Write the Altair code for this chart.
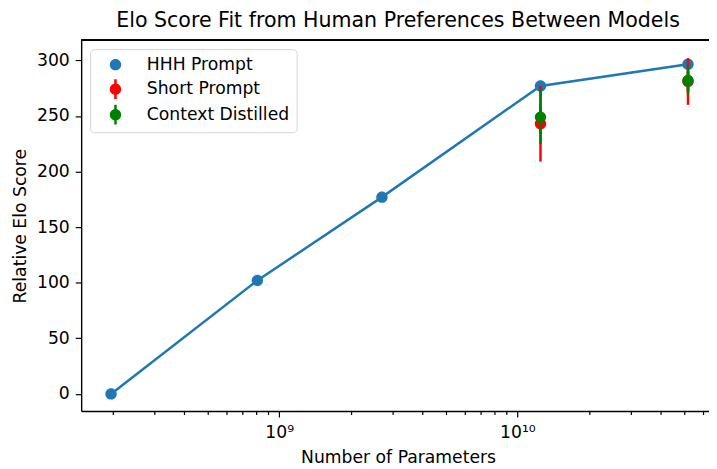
import altair as alt
import pandas as pd

# ---- data ----
series_names = ["HHH Prompt", "Short Prompt", "Context Distilled"]
series_colors = ["#1f77b4", "#ff0000", "#008000"]

hhh_params = [1.97e8, 8.1e8, 2.7e9, 1.25e10, 5.2e10]
hhh_elo = [0, 102, 177, 277, 296.5]

short_params = [1.25e10, 5.2e10]
short_elo = [243, 281]
short_err = [34, 21]

ctx_params = [1.25e10, 5.2e10]
ctx_elo = [249, 282]
ctx_err = [24, 12.5]

x_ticks = [2e8, 3e8, 4e8, 5e8, 6e8, 7e8, 8e8, 9e8, 1e9,
           2e9, 3e9, 4e9, 5e9, 6e9, 7e9, 8e9, 9e9, 1e10,
           2e10, 3e10, 4e10, 5e10, 6e10]
y_ticks = [0, 50, 100, 150, 200, 250, 300]

hhh_df = pd.DataFrame({"params": hhh_params, "elo": hhh_elo, "series": series_names[0]})
short_df = pd.DataFrame({
    "params": short_params, "elo": short_elo,
    "lo": [v - e for v, e in zip(short_elo, short_err)],
    "hi": [v + e for v, e in zip(short_elo, short_err)],
    "series": series_names[1]})
ctx_df = pd.DataFrame({
    "params": ctx_params, "elo": ctx_elo,
    "lo": [v - e for v, e in zip(ctx_elo, ctx_err)],
    "hi": [v + e for v, e in zip(ctx_elo, ctx_err)],
    "series": series_names[2]})

W, H = 635, 375
FONT = "DejaVu Sans"
FS = 17.4
MSIZE = 132

circle_path = "M-1,0A1,1,0,1,1,1,0A1,1,0,1,1,-1,0Z"
bar_path = "M-0.22,-1.74L0.22,-1.74L0.22,1.74L-0.22,1.74Z"
err_shape = circle_path + bar_path

x_enc = alt.X("params:Q",
              scale=alt.Scale(type="log", domain=[1.476e8, 6.37e10], nice=False),
              axis=alt.Axis(
                  title="Number of Parameters",
                  values=x_ticks,
                  labelExpr="datum.value == 1e9 ? '10⁹' : (datum.value == 1e10 ? '10¹⁰' : '')",
                  tickSize={"condition": {"test": "datum.value == 1e9 || datum.value == 1e10", "value": 6},
                            "value": 3.5},
                  labelOverlap=False, labelFlush=False,
                  labelPadding=7, titlePadding=8, titleX=W / 2 + 3, grid=False))
y_enc = alt.Y("elo:Q",
              scale=alt.Scale(domain=[-15.4, 318.1], nice=False, zero=False),
              axis=alt.Axis(title="Relative Elo Score", values=y_ticks, tickSize=6,
                            labelPadding=6, titlePadding=7, grid=False))

color_enc = alt.Color("series:N",
                      scale=alt.Scale(domain=series_names, range=series_colors),
                      legend=alt.Legend(title=None, orient="none", legendX=9, legendY=9,
                                        labelFontSize=FS, labelFont=FONT, labelColor="black",
                                        symbolSize=MSIZE, symbolStrokeWidth=0,
                                        rowPadding=4.8, labelOffset=23, padding=7,
                                        symbolOffset=10,
                                        strokeColor="#d6d6d6", fillColor="white",
                                        cornerRadius=4, symbolOpacity=1))
shape_enc = alt.Shape("series:N",
                      scale=alt.Scale(domain=series_names, range=[circle_path, err_shape, err_shape]),
                      legend=None)

line = alt.Chart(hhh_df).mark_line(color=series_colors[0], strokeWidth=2.5).encode(x=x_enc, y=y_enc)
hhh_pts = alt.Chart(hhh_df).mark_point(filled=True, size=MSIZE, opacity=1).encode(
    x=x_enc, y=y_enc, color=color_enc, shape=shape_enc)

short_rule = alt.Chart(short_df).mark_rule(color=series_colors[1], strokeWidth=2.5).encode(
    x="params:Q", y="lo:Q", y2="hi:Q")
short_pts = alt.Chart(short_df).mark_point(filled=True, size=MSIZE, opacity=1).encode(
    x=x_enc, y=y_enc, color=color_enc, shape=shape_enc)

ctx_rule = alt.Chart(ctx_df).mark_rule(color=series_colors[2], strokeWidth=2.5).encode(
    x="params:Q", y="lo:Q", y2="hi:Q")
ctx_pts = alt.Chart(ctx_df).mark_point(filled=True, size=MSIZE, opacity=1).encode(
    x=x_enc, y=y_enc, color=color_enc, shape=shape_enc)

top_spine = alt.Chart(hhh_df).mark_rule(color="black", strokeWidth=1.4).encode(
    x=alt.value(0), x2=alt.value(W), y=alt.value(0))

chart = alt.layer(line, hhh_pts, short_rule, short_pts, ctx_rule, ctx_pts, top_spine).properties(
    width=W, height=H,
    title=alt.Title("Elo Score Fit from Human Preferences Between Models",
                    font=FONT, fontSize=20.8, fontWeight="normal", color="black",
                    anchor="middle", offset=8, dx=3),
    autosize=alt.AutoSizeParams(type="none"),
    padding={"left": 74, "top": 30, "right": 0, "bottom": 56},
).configure_view(stroke=None).configure_axis(
    labelFont=FONT, titleFont=FONT, labelFontSize=FS, titleFontSize=FS,
    titleFontWeight="normal", labelColor="black", titleColor="black",
    domainColor="black", tickColor="black", domainWidth=1.4, tickWidth=1.2,
)

chart.save("out.html", embed_options={"renderer": "svg", "actions": False})
